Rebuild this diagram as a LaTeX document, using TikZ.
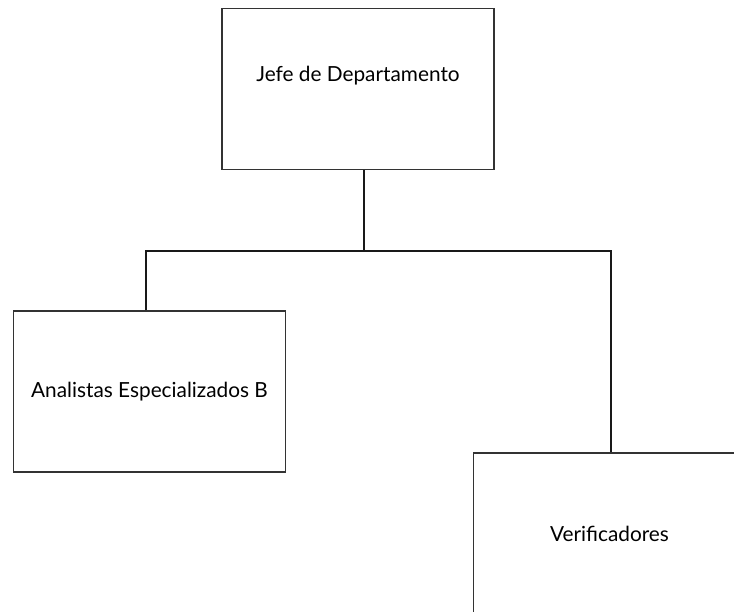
\documentclass[tikz,border=0pt]{standalone}
\usepackage{fontspec}
\setmainfont{Lato}
\begin{document}
\begin{tikzpicture}[x=1pt,y=-1pt,
  orgbox/.style={draw=black!80, line width=1.1pt, minimum width=272pt, minimum height=161pt, inner sep=0pt, font=\fontsize{20.8}{24}\selectfont},
  link/.style={draw=black!90, line width=1.2pt}]
\useasboundingbox (0,0) rectangle (734,611);
\clip (0,0) rectangle (734,611);
\node[orgbox] (top) at (358,89) {};
\node[font=\fontsize{20.8}{24}\selectfont] (toptext) at (358,76) {Jefe de Departamento};
\node[orgbox] (left) at (149.5,391.5) {Analistas Especializados B};
\node[orgbox] (right) at (609.5,533.5) {Verificadores};
\coordinate (j) at (364,251);
\coordinate (jl) at (146,251);
\coordinate (jr) at (611,251);
\draw[link] (j |- top.south) -- (j);
\draw[link] (jl |- left.north) -- (jl) -- (jr) -- (jr |- right.north);
\end{tikzpicture}
\end{document}
